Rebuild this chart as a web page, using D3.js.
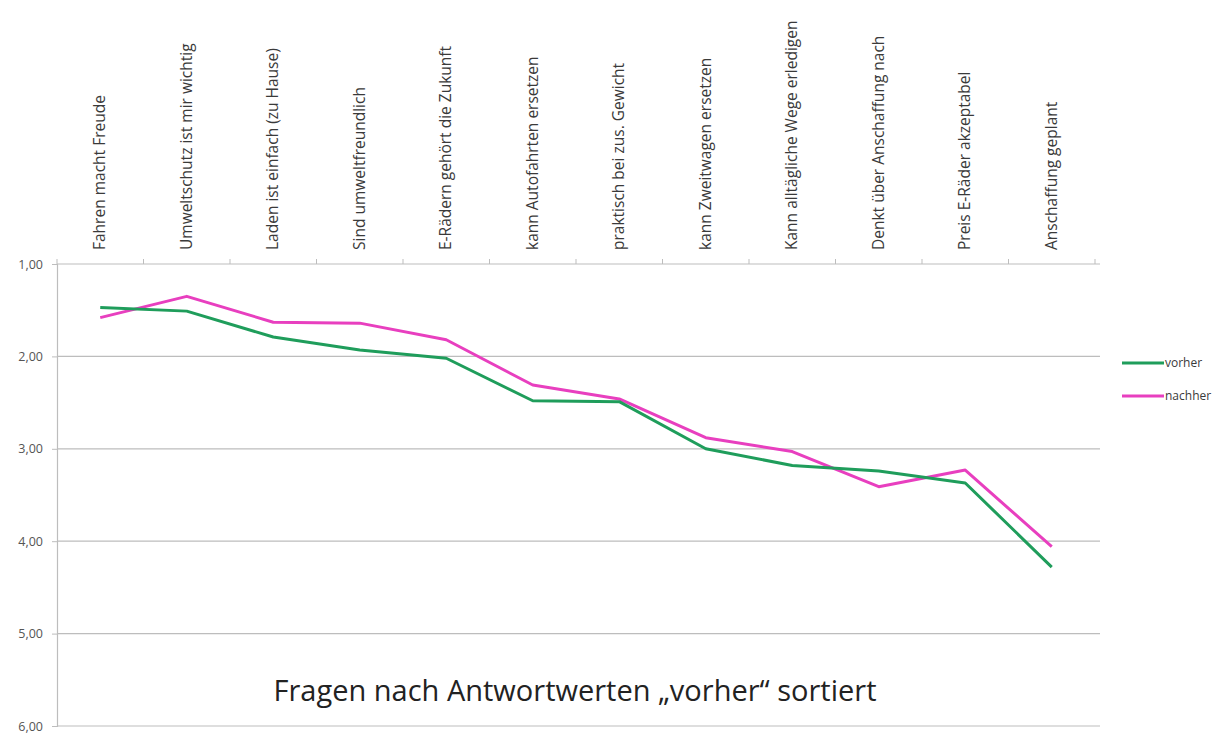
<!DOCTYPE html>
<html>
<head>
<meta charset="utf-8">
<script src="https://cdn.jsdelivr.net/npm/d3@7"></script>
<style>
body { margin: 0; background: #fff; font-family: 'Open Sans', 'Liberation Sans', sans-serif; overflow: hidden; }
svg { display: block; }
</style>
</head>
<body>
<svg id="chart"></svg>
<script>
// Questions, sorted by the "vorher" answer value
var fragen = [
	"Fahren macht Freude",
	"Umweltschutz ist mir wichtig",
	"Laden ist einfach (zu Hause)",
	"Sind umweltfreundlich",
	"E-Rädern gehört die Zukunft",
	"kann Autofahrten ersetzen",
	"praktisch bei zus. Gewicht",
	"kann Zweitwagen ersetzen",
	"Kann alltägliche Wege erledigen",
	"Denkt über Anschaffung nach",
	"Preis E-Räder akzeptabel",
	"Anschaffung geplant"
];
var vorher = [1.47, 1.51, 1.79, 1.93, 2.02, 2.48, 2.49, 3.00, 3.18, 3.24, 3.37, 4.28];
var nachher = [1.58, 1.35, 1.63, 1.64, 1.82, 2.31, 2.46, 2.88, 3.03, 3.41, 3.23, 4.06];
var yTicks = [1, 2, 3, 4, 5, 6];

var width = 1232;
var height = 734;
// plot area ("top" is taken on window, so keep it in an object)
var plot = { left: 57, right: 1095, top: 264, bottom: 726, gridEnd: 1100 };

var svg = d3.select("#chart").attr("width", width).attr("height", height);

var xScale = d3.scaleBand().domain(fragen).range([plot.left, plot.right]).padding(0);
var yScale = d3.scaleLinear().domain([1, 6]).range([plot.top, plot.bottom]);
var xc = function (d) { return xScale(d) + xScale.bandwidth() / 2; };

// gridlines (incl. the top line at 1,00)
svg.selectAll("line.grid").data(yTicks).enter().append("line")
	.attr("class", "grid")
	.attr("x1", plot.left).attr("x2", plot.gridEnd)
	.attr("y1", function (d) { return yScale(d); })
	.attr("y2", function (d) { return yScale(d); })
	.attr("stroke", "#bdbdbd").attr("stroke-width", 1.2);

// tick marks at category boundaries
var bounds = fragen.map(function (d) { return xScale(d); }).concat([plot.right]);
svg.selectAll("line.xtick").data(bounds).enter().append("line")
	.attr("class", "xtick")
	.attr("x1", function (d) { return d; }).attr("x2", function (d) { return d; })
	.attr("y1", yScale(1) - 5).attr("y2", yScale(1))
	.attr("stroke", "#bdbdbd");

// y axis
var yAxis = d3.axisLeft(yScale).tickValues(yTicks).tickSize(5).tickPadding(9)
	.tickFormat(function (d) { return d3.format(".2f")(d).replace(".", ","); });
var yg = svg.append("g").attr("transform", "translate(" + plot.left + ",0)").call(yAxis);
yg.select(".domain").attr("stroke", "#bdbdbd").attr("stroke-width", 1.2);
yg.selectAll(".tick line").attr("stroke", "#bdbdbd");
yg.selectAll(".tick text").attr("fill", "#555").style("font-size", "12.5px")
	.style("font-family", "'Open Sans', sans-serif");

// category labels, rotated
svg.selectAll("text.cat").data(fragen).enter().append("text")
	.attr("class", "cat")
	.attr("transform", function (d) { return "translate(" + (xc(d) + 5) + "," + 250 + ") rotate(-90)"; })
	.attr("fill", "#3a3a3a")
	.style("font-size", "15.5px")
	.style("font-family", "'Open Sans', sans-serif")
	.text(function (d) { return d; });

// lines
var line = d3.line()
	.x(function (d, i) { return xc(fragen[i]); })
	.y(function (d) { return yScale(d); });

var series = [
	{ name: "vorher", values: vorher, color: "#1f9d5b" },
	{ name: "nachher", values: nachher, color: "#e83fbf" }
];

svg.selectAll("path.series").data(series.slice().reverse()).enter().append("path")
	.attr("class", "series")
	.attr("d", function (s) { return line(s.values); })
	.attr("fill", "none")
	.attr("stroke", function (s) { return s.color; })
	.attr("stroke-width", 3)
	.attr("stroke-linejoin", "round");

// legend
var leg = svg.selectAll("g.leg").data(series).enter().append("g")
	.attr("class", "leg")
	.attr("transform", function (s, i) { return "translate(1122," + (363 + i * 33) + ")"; });
leg.append("line").attr("x1", 0).attr("x2", 42).attr("y1", 0).attr("y2", 0)
	.attr("stroke", function (s) { return s.color; }).attr("stroke-width", 3);
leg.append("text").attr("x", 43).attr("y", 4)
	.attr("fill", "#3a3a3a").style("font-size", "12px")
	.style("font-family", "'Open Sans', sans-serif")
	.text(function (s) { return s.name; });

// title
svg.append("text")
	.attr("x", 575).attr("y", 701)
	.attr("text-anchor", "middle")
	.attr("fill", "#222")
	.style("font-size", "29px")
	.style("font-family", "'Open Sans', sans-serif")
	.text("Fragen nach Antwortwerten \u201Evorher\u201C sortiert");
</script>
</body>
</html>
